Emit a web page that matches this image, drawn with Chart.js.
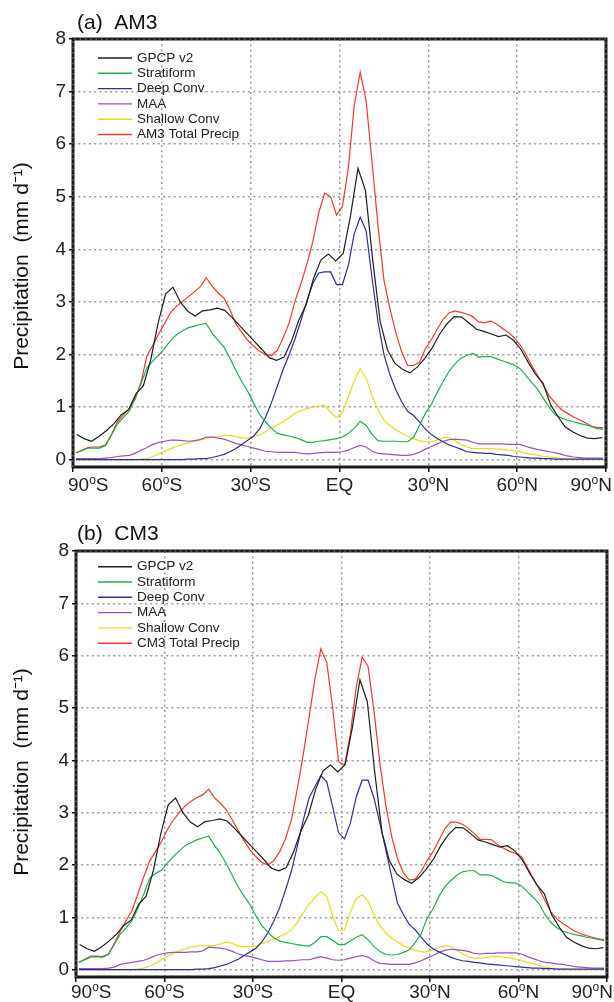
<!DOCTYPE html>
<html>
<head>
<meta charset="utf-8">
<script src="https://cdn.jsdelivr.net/npm/chart.js@4.4.0/dist/chart.umd.min.js"></script>
<style>
html, body { margin: 0; padding: 0; background: #fff; }
#wrap { position: relative; width: 614px; height: 1002px; }
.panel { position: absolute; left: 0; width: 614px; }
#p1 { top: 0; height: 500px; }
#p2 { top: 500px; height: 502px; }
</style>
</head>
<body>
<div id="wrap">
  <div class="panel" id="p1"><canvas id="c1" width="614" height="500"></canvas></div>
  <div class="panel" id="p2"><canvas id="c2" width="614" height="502"></canvas></div>
</div>
<script>
// GPCP observations, 2.5 deg grid
const obsLat = [-88.75,-86.25,-83.75,-81.25,-78.75,-76.25,-73.75,-71.25,-68.75,-66.25,
  -63.75,-61.25,-58.75,-56.25,-53.75,-51.25,-48.75,-46.25,-43.75,-41.25,
  -38.75,-36.25,-33.75,-31.25,-28.75,-26.25,-23.75,-21.25,-18.75,-16.25,
  -13.75,-11.25,-8.75,-6.25,-3.75,-1.25,1.25,3.75,6.25,8.75,
  11.25,13.75,16.25,18.75,21.25,23.75,26.25,28.75,31.25,33.75,
  36.25,38.75,41.25,43.75,46.25,48.75,51.25,53.75,56.25,58.75,
  61.25,63.75,66.25,68.75,71.25,73.75,76.25,78.75,81.25,83.75,
  86.25,88.75];
const gpcp = [0.48,0.40,0.35,0.44,0.55,0.68,0.85,0.95,1.25,1.40,
  1.90,2.60,3.15,3.28,3.00,2.82,2.73,2.83,2.85,2.88,
  2.84,2.70,2.55,2.40,2.25,2.10,1.94,1.89,1.95,2.25,
  2.65,2.95,3.45,3.80,3.91,3.78,3.92,4.65,5.54,5.12,
  3.78,2.62,2.08,1.83,1.72,1.65,1.76,1.92,2.12,2.38,
  2.58,2.72,2.71,2.60,2.48,2.44,2.39,2.34,2.37,2.27,
  2.10,1.85,1.62,1.45,1.05,0.82,0.62,0.53,0.46,0.41,
  0.40,0.42];

// model grid, 2 deg
const modelLat = [-89,-87,-85,-83,-81,-79,-77,-75,-73,-71,
  -69,-67,-65,-63,-61,-59,-57,-55,-53,-51,
  -49,-47,-45,-43,-41,-39,-37,-35,-33,-31,
  -29,-27,-25,-23,-21,-19,-17,-15,-13,-11,
  -9,-7,-5,-3,-1,1,3,5,7,9,
  11,13,15,17,19,21,23,25,27,29,
  31,33,35,37,39,41,43,45,47,49,
  51,53,55,57,59,61,63,65,67,69,
  71,73,75,77,79,81,83,85,87,89];

// AM3
const am3Total = [0.13,0.18,0.23,0.24,0.24,0.28,0.48,0.72,0.85,0.97,
  1.15,1.48,1.98,2.18,2.40,2.60,2.80,2.92,3.01,3.10,
  3.19,3.29,3.46,3.30,3.17,3.07,2.85,2.58,2.42,2.27,
  2.16,2.06,2.00,1.98,2.08,2.32,2.60,3.02,3.35,3.72,
  4.15,4.70,5.07,5.00,4.65,4.82,5.55,6.75,7.37,6.82,
  5.65,4.45,3.42,2.88,2.42,2.05,1.79,1.79,1.85,2.11,
  2.28,2.48,2.67,2.79,2.83,2.80,2.77,2.72,2.62,2.60,
  2.64,2.58,2.50,2.42,2.32,2.18,2.00,1.78,1.59,1.40,
  1.20,1.07,0.95,0.88,0.81,0.76,0.70,0.64,0.61,0.61];
const am3Strat = [0.13,0.17,0.22,0.22,0.22,0.27,0.47,0.68,0.80,0.92,
  1.18,1.45,1.75,1.88,1.99,2.12,2.27,2.38,2.45,2.51,
  2.54,2.57,2.59,2.40,2.27,2.14,1.93,1.70,1.48,1.30,
  1.08,0.86,0.72,0.60,0.50,0.47,0.45,0.42,0.38,0.33,
  0.33,0.35,0.36,0.38,0.40,0.43,0.50,0.60,0.73,0.65,
  0.48,0.36,0.35,0.35,0.35,0.34,0.34,0.42,0.65,0.88,
  1.05,1.28,1.48,1.68,1.82,1.93,1.98,2.02,1.95,1.96,
  1.96,1.92,1.88,1.84,1.80,1.73,1.60,1.46,1.33,1.15,
  0.98,0.85,0.79,0.75,0.72,0.69,0.66,0.63,0.59,0.58];
const am3Deep = [0,0,0,0,0,0,0,0,0,0,
  0,0,0,0,0,0,0,0,0,0.01,
  0.01,0.02,0.02,0.04,0.07,0.10,0.15,0.21,0.29,0.37,
  0.45,0.58,0.80,1.08,1.40,1.72,2.00,2.30,2.65,3.02,
  3.35,3.55,3.57,3.57,3.33,3.33,3.70,4.30,4.61,4.35,
  3.45,2.62,2.00,1.62,1.33,1.10,0.92,0.84,0.72,0.58,
  0.48,0.40,0.34,0.28,0.24,0.20,0.15,0.14,0.13,0.12,
  0.12,0.10,0.09,0.08,0.06,0.05,0.04,0.03,0.03,0.02,
  0.02,0.01,0.01,0.01,0.01,0.01,0.01,0.01,0.01,0.01];
const am3Maa = [0.02,0.02,0.02,0.02,0.02,0.03,0.04,0.06,0.07,0.08,
  0.12,0.18,0.23,0.29,0.33,0.35,0.37,0.37,0.36,0.35,
  0.36,0.38,0.43,0.43,0.41,0.39,0.35,0.31,0.28,0.25,
  0.22,0.19,0.16,0.15,0.14,0.14,0.14,0.14,0.12,0.11,
  0.12,0.13,0.14,0.14,0.14,0.15,0.18,0.23,0.27,0.24,
  0.16,0.12,0.11,0.10,0.09,0.08,0.08,0.10,0.14,0.20,
  0.25,0.30,0.35,0.38,0.39,0.38,0.37,0.33,0.30,0.30,
  0.30,0.30,0.30,0.29,0.29,0.29,0.25,0.22,0.19,0.17,
  0.15,0.13,0.10,0.07,0.05,0.04,0.03,0.03,0.03,0.03];
const am3Shallow = [0,0,0,0,0,0,0,0,0,0,
  0,0.01,0.02,0.06,0.11,0.16,0.21,0.25,0.29,0.32,
  0.35,0.38,0.40,0.43,0.44,0.46,0.46,0.44,0.41,0.42,
  0.44,0.47,0.53,0.60,0.66,0.72,0.80,0.88,0.94,0.97,
  1.00,1.02,1.03,0.90,0.80,0.90,1.20,1.50,1.73,1.55,
  1.22,0.95,0.75,0.65,0.57,0.50,0.44,0.40,0.36,0.34,
  0.34,0.37,0.42,0.42,0.36,0.29,0.24,0.21,0.21,0.21,
  0.21,0.20,0.20,0.18,0.17,0.15,0.12,0.10,0.08,0.06,
  0.05,0.04,0.02,0.01,0,0,0,0,0,0];

// CM3
const cm3Total = [0.14,0.20,0.26,0.26,0.25,0.30,0.50,0.74,0.94,1.13,
  1.45,1.78,2.08,2.26,2.45,2.68,2.86,3.00,3.13,3.22,
  3.29,3.34,3.45,3.28,3.18,3.05,2.86,2.66,2.46,2.29,
  2.16,2.05,2.00,2.08,2.25,2.50,2.86,3.45,4.10,4.82,
  5.56,6.13,5.87,5.00,3.98,3.90,4.50,5.40,5.97,5.80,
  4.95,3.95,3.15,2.55,2.12,1.85,1.71,1.73,1.88,2.08,
  2.25,2.47,2.69,2.82,2.82,2.78,2.70,2.60,2.49,2.49,
  2.48,2.38,2.32,2.26,2.22,2.16,1.95,1.74,1.54,1.32,
  1.10,0.97,0.88,0.81,0.74,0.69,0.65,0.62,0.59,0.57];
const cm3Strat = [0.14,0.19,0.24,0.25,0.24,0.29,0.48,0.68,0.80,0.94,
  1.17,1.45,1.75,1.84,1.90,2.04,2.16,2.27,2.37,2.43,
  2.48,2.52,2.55,2.37,2.22,2.02,1.80,1.58,1.40,1.24,
  1.03,0.84,0.72,0.61,0.55,0.52,0.50,0.48,0.46,0.45,
  0.52,0.63,0.63,0.56,0.48,0.48,0.55,0.62,0.67,0.57,
  0.44,0.35,0.29,0.28,0.29,0.33,0.38,0.52,0.68,0.98,
  1.16,1.40,1.58,1.70,1.80,1.87,1.89,1.89,1.81,1.81,
  1.80,1.74,1.68,1.66,1.66,1.60,1.49,1.38,1.26,1.05,
  0.90,0.80,0.74,0.70,0.67,0.65,0.62,0.60,0.58,0.56];
const cm3Deep = [0,0,0,0,0,0,0,0,0,0,
  0,0,0,0,0,0,0,0,0,0,
  0.01,0.01,0.02,0.04,0.07,0.10,0.15,0.20,0.27,0.34,
  0.41,0.53,0.70,0.92,1.18,1.52,1.88,2.35,2.85,3.28,
  3.50,3.71,3.59,3.11,2.62,2.50,2.80,3.30,3.62,3.62,
  3.28,2.80,2.30,1.78,1.27,1.05,0.86,0.76,0.62,0.49,
  0.40,0.34,0.29,0.24,0.20,0.17,0.16,0.14,0.13,0.11,
  0.10,0.09,0.08,0.07,0.06,0.05,0.04,0.03,0.03,0.02,
  0.02,0.01,0.01,0.01,0.01,0.01,0.01,0.01,0.01,0.01];
const cm3Maa = [0.02,0.02,0.02,0.02,0.02,0.03,0.05,0.10,0.12,0.14,
  0.16,0.18,0.22,0.27,0.30,0.32,0.33,0.33,0.33,0.34,
  0.34,0.36,0.43,0.42,0.41,0.39,0.35,0.30,0.27,0.25,
  0.22,0.19,0.16,0.16,0.16,0.17,0.17,0.18,0.19,0.19,
  0.22,0.25,0.22,0.19,0.18,0.19,0.22,0.25,0.27,0.24,
  0.17,0.12,0.11,0.10,0.10,0.10,0.10,0.13,0.17,0.22,
  0.27,0.33,0.37,0.39,0.38,0.37,0.35,0.31,0.30,0.31,
  0.31,0.32,0.32,0.32,0.32,0.30,0.25,0.21,0.17,0.14,
  0.13,0.11,0.10,0.08,0.06,0.05,0.04,0.03,0.03,0.03];
const cm3Shallow = [0,0,0,0,0,0,0,0,0,0,
  0.01,0.03,0.07,0.12,0.19,0.25,0.31,0.36,0.40,0.43,
  0.45,0.46,0.46,0.46,0.49,0.53,0.50,0.45,0.44,0.44,
  0.45,0.50,0.54,0.58,0.63,0.68,0.76,0.90,1.08,1.25,
  1.38,1.49,1.40,1.02,0.75,0.76,1.10,1.36,1.43,1.31,
  1.05,0.84,0.70,0.60,0.53,0.46,0.41,0.37,0.34,0.34,
  0.38,0.42,0.46,0.44,0.38,0.30,0.25,0.22,0.22,0.23,
  0.25,0.25,0.24,0.22,0.20,0.18,0.14,0.11,0.08,0.05,
  0.03,0.02,0.01,0,0,0,0,0,0,0];

const xTicks = [-90, -60, -30, 0, 30, 60, 90];
const xTickLabels = [["90","o","S"], ["60","o","S"], ["30","o","S"], ["EQ"], ["30","o","N"], ["60","o","N"], ["90","o","N"]];
const yTicks = [0, 1, 2, 3, 4, 5, 6, 7, 8];

const colors = {
  obs: "#1e1e1e",
  strat: "#1fae4f",
  deep: "#2e2e9c",
  maa: "#9b52b5",
  shallow: "#e6dc1e",
  total: "#f2382c"
};
const FONT = "'Liberation Sans', Arial, sans-serif";

function series(lat, vals) {
  return lat.map((x, i) => ({ x: x, y: vals[i] }));
}

function line(label, lat, vals, color) {
  return {
    label: label,
    data: series(lat, vals),
    borderColor: color,
    backgroundColor: color,
    borderWidth: 1.2,
    pointRadius: 0,
    tension: 0,
    fill: false
  };
}

// frame, titles, legend, x labels
const decor = {
  id: "decor",
  afterDraw(chart) {
    const d = chart.options.plugins.decor;
    const ctx = chart.ctx;
    const a = chart.chartArea;
    const xs = chart.scales.x;
    ctx.save();

    // frame: thick black with a faint dotted texture like the original
    ctx.strokeStyle = "#1a1a1a";
    ctx.lineWidth = 3;
    ctx.strokeRect(a.left, a.top, a.right - a.left, a.bottom - a.top);
    ctx.strokeStyle = "#8a8a8a";
    ctx.lineWidth = 1;
    ctx.setLineDash([1.5, 3.8]);
    ctx.beginPath();
    ctx.moveTo(a.left, a.bottom);
    ctx.lineTo(a.left, a.top);
    ctx.lineTo(a.right, a.top);
    ctx.lineTo(a.right, a.bottom);
    ctx.stroke();
    ctx.setLineDash([]);

    // x tick labels with raised "o"
    ctx.fillStyle = "#222";
    ctx.textBaseline = "alphabetic";
    xTicks.forEach((v, i) => {
      const parts = xTickLabels[i];
      const px = xs.getPixelForValue(v);
      const widths = parts.map((p, j) => {
        ctx.font = (j === 1 ? "12px " : "19px ") + FONT;
        return ctx.measureText(p).width;
      });
      const total = widths.reduce((s, w) => s + w, 0);
      let x0 = px - total / 2;
      if (i === 0) x0 = px - 5;
      if (i === xTicks.length - 1) x0 = px + 6 - total;
      ctx.textAlign = "left";
      parts.forEach((p, j) => {
        ctx.font = (j === 1 ? "12px " : "19px ") + FONT;
        ctx.fillText(p, x0, j === 1 ? d.labelY - 7 : d.labelY);
        x0 += widths[j];
      });
    });

    // panel title
    ctx.font = "21px " + FONT;
    ctx.fillStyle = "#111";
    ctx.textAlign = "left";
    ctx.fillText(d.title, 77, d.titleY);

    // y axis title
    ctx.save();
    ctx.translate(22, d.yTitleY);
    ctx.rotate(-Math.PI / 2);
    ctx.textAlign = "center";
    ctx.textBaseline = "middle";
    ctx.font = "21px " + FONT;
    ctx.fillText("Precipitation  (mm d\u207B\u00B9)", 0, 0);
    ctx.restore();

    // legend
    ctx.font = "13.5px " + FONT;
    ctx.textBaseline = "middle";
    chart.data.datasets.forEach((ds, i) => {
      const y = d.legendTop + i * 15.3;
      ctx.strokeStyle = ds.borderColor;
      ctx.lineWidth = 1.4;
      ctx.beginPath();
      ctx.moveTo(98, y);
      ctx.lineTo(132, y);
      ctx.stroke();
      ctx.fillStyle = "#222";
      ctx.fillText(ds.label, 137, y);
    });
    ctx.restore();
  }
};

function makePanel(id, name, strat, deep, maa, shallow, total, cfg) {
  const datasets = [
    line("GPCP v2", obsLat, gpcp, colors.obs),
    line("Stratiform", modelLat, strat, colors.strat),
    line("Deep Conv", modelLat, deep, colors.deep),
    line("MAA", modelLat, maa, colors.maa),
    line("Shallow Conv", modelLat, shallow, colors.shallow),
    line(name + " Total Precip", modelLat, total, colors.total)
  ];
  return new Chart(document.getElementById(id), {
    type: "line",
    data: { datasets: datasets },
    options: {
      responsive: false,
      animation: false,
      layout: { padding: { top: cfg.top, right: cfg.right, left: 0, bottom: 0 } },
      plugins: {
        legend: { display: false },
        tooltip: { enabled: false },
        decor: cfg.decor
      },
      scales: {
        x: {
          type: "linear",
          min: -90,
          max: 90,
          afterBuildTicks: (s) => { s.ticks = xTicks.map(v => ({ value: v })); },
          afterFit: (s) => { s.height = cfg.xHeight; s.paddingLeft = 0; s.paddingRight = 0; },
          ticks: { display: false },
          grid: { color: "#9a9a9a", lineWidth: 1.5, tickColor: "#111", tickLength: 5, tickWidth: 1.5 },
          border: { display: false, dash: [2, 3.3] }
        },
        y: {
          min: -0.14,
          max: 8,
          afterBuildTicks: (s) => { s.ticks = yTicks.map(v => ({ value: v })); },
          afterFit: (s) => { s.width = cfg.yWidth; s.paddingTop = 0; s.paddingBottom = 0; },
          ticks: { color: "#222", padding: 3, font: { size: 19, family: FONT } },
          grid: { color: "#9a9a9a", lineWidth: 1.5, tickColor: "#111", tickLength: 4, tickWidth: 1.5 },
          border: { display: false, dash: [2, 3.3] }
        }
      }
    },
    plugins: [decor]
  });
}

makePanel("c1", "AM3", am3Strat, am3Deep, am3Maa, am3Shallow, am3Total, {
  top: 39, right: 8, xHeight: 33, yWidth: 73,
  decor: { title: "(a)  AM3", titleY: 29, labelY: 491, yTitleY: 266, legendTop: 58 }
});
makePanel("c2", "CM3", cm3Strat, cm3Deep, cm3Maa, cm3Shallow, cm3Total, {
  top: 51, right: 7, xHeight: 25, yWidth: 76,
  decor: { title: "(b)  CM3", titleY: 40, labelY: 498, yTitleY: 272, legendTop: 66.7 }
});
</script>
</body>
</html>
